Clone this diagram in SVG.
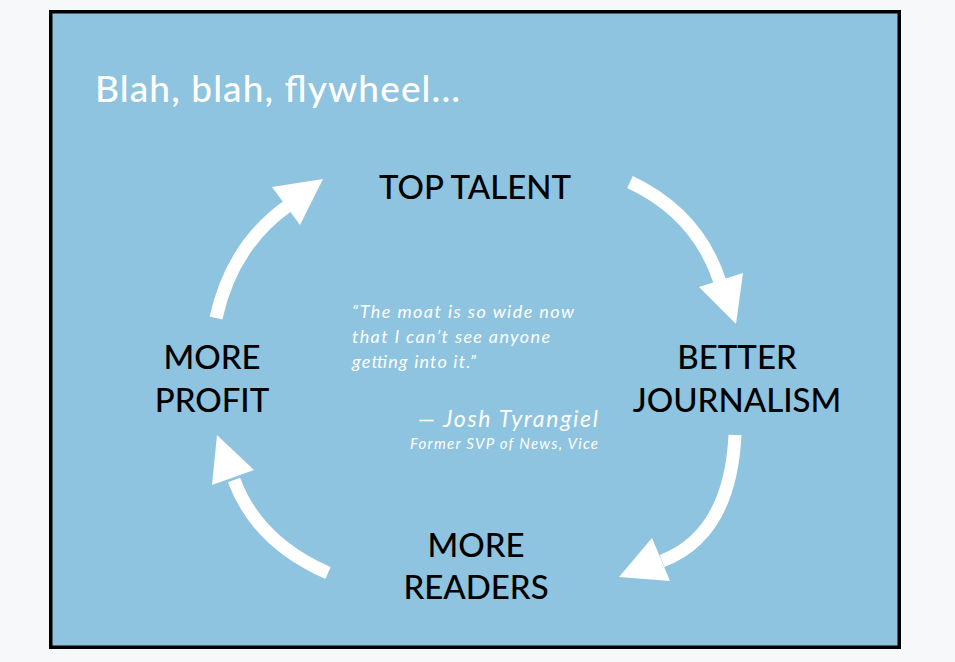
<svg xmlns="http://www.w3.org/2000/svg" width="955" height="662" viewBox="0 0 955 662">
  <style>
    .lbl { font-family: Lato, "Noto Sans", "Liberation Sans", sans-serif; font-size: 33px; fill: #000; text-anchor: middle; font-weight: 500; }
    .title { font-family: Lato, "Noto Sans", "Liberation Sans", sans-serif; font-size: 37px; fill: #fff; font-weight: 500; }
    .quote { font-family: Lato, "Noto Sans", "Liberation Sans", sans-serif; font-style: italic; fill: #fff; }
    .arc { fill: none; stroke: #fff; stroke-width: 13; stroke-linecap: butt; }
    .head { fill: #fff; }
  </style>
  <rect x="0" y="0" width="955" height="662" fill="#f7f8fa"/>
  <rect x="50.75" y="11.75" width="848.5" height="635.5" fill="#8ec4df" stroke="#000" stroke-width="3.5"/>

  <text class="title" x="95" y="102" textLength="365" lengthAdjust="spacing">Blah, blah, flywheel...</text>

  <g id="connectors">
    <!-- more profit -> top talent -->
    <path class="arc" d="M216,318 Q232,245 289,205"/>
    <polygon class="head" points="272,187 323,179 300,225"/>
    <!-- top talent -> better journalism -->
    <path class="arc" d="M630,182 Q698,214 720,282"/>
    <polygon class="head" points="699,287 743,273 736,324"/>
    <!-- better journalism -> more readers -->
    <path class="arc" d="M735,435 Q730,535 662,561"/>
    <polygon class="head" points="652,538 670,581 619,577"/>
    <!-- more readers -> more profit -->
    <path class="arc" d="M328,573 Q257,542 234,480"/>
    <polygon class="head" points="254,470 212,485 217,435"/>
  </g>

  <g id="node-top-talent">
    <text class="lbl" x="475" y="199">TOP TALENT</text>
  </g>
  <g id="node-better-journalism">
    <text class="lbl" x="737" y="369">BETTER</text>
    <text class="lbl" x="737" y="412">JOURNALISM</text>
  </g>
  <g id="node-more-readers">
    <text class="lbl" x="476" y="557">MORE</text>
    <text class="lbl" x="476" y="599">READERS</text>
  </g>
  <g id="node-more-profit">
    <text class="lbl" x="212" y="369">MORE</text>
    <text class="lbl" x="212" y="412">PROFIT</text>
  </g>

  <g id="quote">
    <text class="quote" x="352" y="318" font-size="18" textLength="222" lengthAdjust="spacing">“The moat is so wide now</text>
    <text class="quote" x="352" y="343" font-size="18" textLength="198" lengthAdjust="spacing">that I can’t see anyone</text>
    <text class="quote" x="352" y="368" font-size="18" textLength="124" lengthAdjust="spacing">getting into it.”</text>
    <text class="quote" x="418" y="427" font-size="23" textLength="180" lengthAdjust="spacing">— Josh Tyrangiel</text>
    <text class="quote" x="410" y="449" font-size="15" textLength="188" lengthAdjust="spacing">Former SVP of News, Vice</text>
  </g>
</svg>
